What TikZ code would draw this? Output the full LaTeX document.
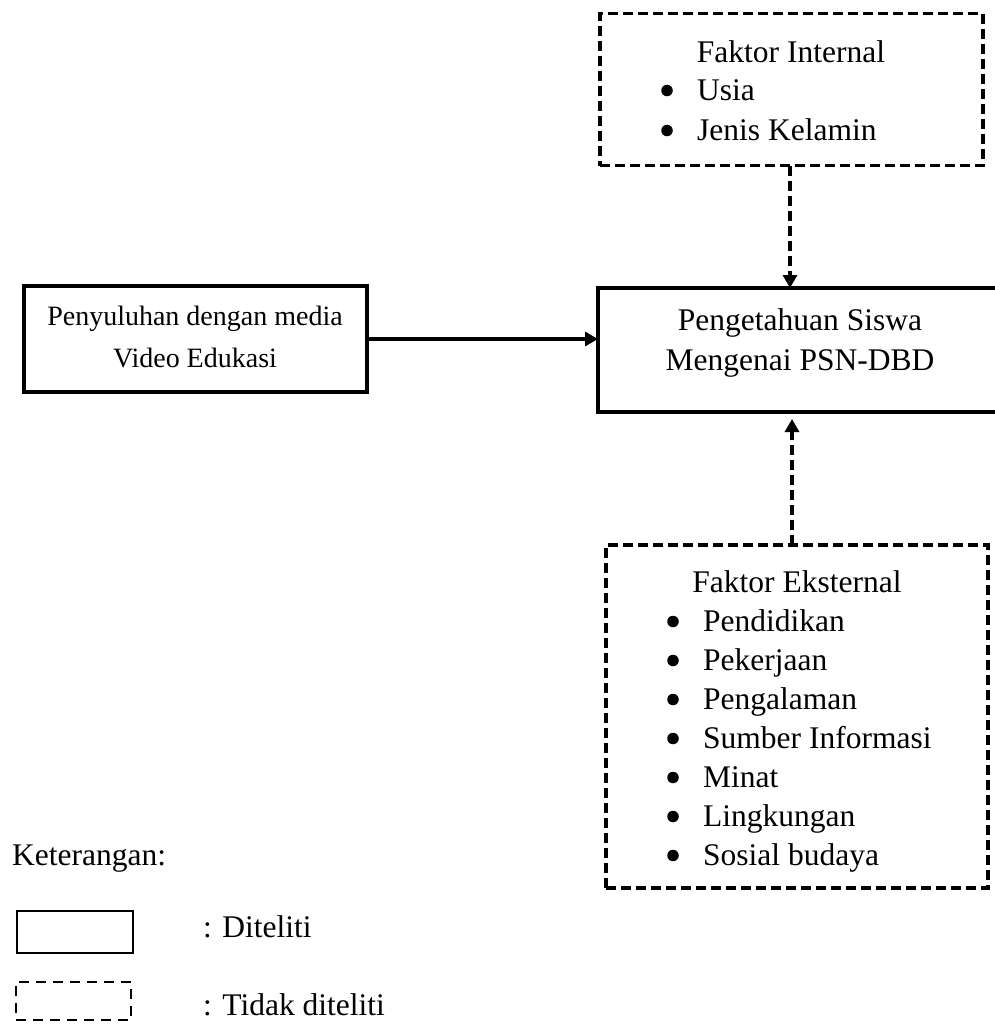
\documentclass[tikz,border=0pt]{standalone}
\usepackage{fontspec}
\setmainfont{Liberation Serif}
\usetikzlibrary{arrows.meta}
\begin{document}
\begin{tikzpicture}[x=1pt,y=-1pt,
  solidbox/.style={draw,line width=3.2pt,inner sep=0pt,outer sep=0pt},
  dashbox/.style={draw,line width=3.2pt,dash pattern=on 10pt off 5pt,inner sep=0pt,outer sep=0pt},
  txt/.style={inner sep=0pt,anchor=base,font=\fontsize{31.5}{39}\selectfont},
  ltxt/.style={txt,anchor=base west},
  stxt/.style={inner sep=0pt,anchor=base,font=\fontsize{28}{34}\selectfont},
  bul/.style={circle,fill=black,inner sep=0pt,minimum size=11.5pt},
  arr/.style={line width=3.2pt,-{Triangle[width=14pt,length=13pt]}},
  darr/.style={arr,dash pattern=on 10pt off 5pt},
  legsolid/.style={draw,line width=2.2pt,inner sep=0pt,outer sep=0pt},
  legdash/.style={draw,line width=2.2pt,dash pattern=on 10pt off 7pt,inner sep=0pt,outer sep=0pt}
]
\useasboundingbox (0,0) rectangle (995,1026);

% Boxes
\node[dashbox,minimum width=383pt,minimum height=152pt] (fi) at (791.5,89.5) {};
\node[solidbox,minimum width=343pt,minimum height=106pt] (lb) at (195.5,339) {};
\node[solidbox,minimum width=399pt,minimum height=124pt] (main) at (797.5,350) {};
\node[dashbox,minimum width=382pt,minimum height=343pt] (fe) at (797,716.5) {};

% Faktor Internal
\node[txt] (fit) at (791,62) {Faktor Internal};
\node[bul] (fib1) at (667,90.5) {};
\node[ltxt] (fii1) at (697,100) {Usia};
\node[bul] (fib2) at (667,130.5) {};
\node[ltxt] (fii2) at (697,140) {Jenis Kelamin};

% Left box text
\node[stxt] (lt1) at (195,325) {Penyuluhan dengan media};
\node[stxt] (lt2) at (195,367) {Video Edukasi};

% Main box text
\node[txt] (mt1) at (800,330) {Pengetahuan Siswa};
\node[txt] (mt2) at (800,370) {Mengenai PSN-DBD};

% Faktor Eksternal
\node[txt] (fet) at (797,592) {Faktor Eksternal};
\foreach \t [count=\i from 0] in {Pendidikan,Pekerjaan,Pengalaman,Sumber Informasi,Minat,Lingkungan,Sosial budaya}{
  \node[bul] (feb\i) at (673,{621.5+39*\i}) {};
  \node[ltxt] (fei\i) at (703,{631+39*\i}) {\t};
}

% Connectors
\coordinate (ta) at (790,0);
\coordinate (ba) at (792,0);
\draw[arr] (lb.east) -- (lb.east -| main.west);
\draw[darr] (fi.south -| ta) -- (main.north -| ta);
\draw[darr,shorten >=7pt] (fe.north -| ba) -- (main.south -| ba);

% Legend
\node[ltxt] (ket) at (12,865) {Keterangan:};
\node[legsolid,minimum width=116pt,minimum height=42pt] (ls) at (75,932) {};
\node[legdash,minimum width=115pt,minimum height=38pt] (ld) at (73.5,1001) {};
\node[ltxt] (d1) at (203,937) {: Diteliti};
\node[ltxt] (d2) at (203,1015) {: Tidak diteliti};
\end{tikzpicture}
\end{document}
